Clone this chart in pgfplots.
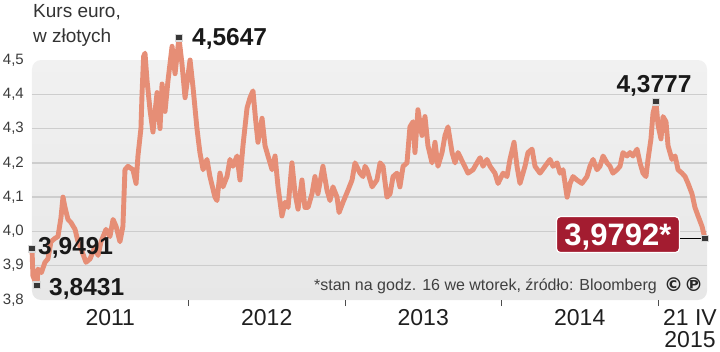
\documentclass[border=0pt]{standalone}
\usepackage{pgfplots}
\pgfplotsset{compat=1.18}
\usepackage{fontspec}
\setmainfont{Liberation Sans}
\newfontfamily\symfont{DejaVu Sans}
\definecolor{linec}{RGB}{230,142,118}
\definecolor{bgtop}{RGB}{241,241,241}
\definecolor{bgbot}{RGB}{231,231,231}
\definecolor{gridc}{RGB}{205,205,205}
\definecolor{tickc}{RGB}{60,60,60}
\definecolor{boxred}{RGB}{163,28,48}
\definecolor{markc}{RGB}{55,55,55}
\definecolor{markb}{RGB}{215,215,215}
\begin{document}
\begin{tikzpicture}
\path[use as bounding box] (-32pt,-51pt) rectangle (688pt,300pt);
\begin{axis}[
  scale only axis, width=675pt, height=240pt,
  xmin=2011, xmax=2015.313, ymin=3.8, ymax=4.5,
  clip=false,
  axis line style={draw=none},
  axis background/.style={top color=bgtop, bottom color=bgbot, rounded corners=9pt},
  ytick={3.9,4.0,4.1,4.2,4.3,4.4},
  extra y ticks={3.8,4.5},
  extra y tick style={grid=none},
  ymajorgrids,
  major grid style={gridc, line width=1.3pt},
  yticklabel style={font=\fontsize{15}{15}\selectfont, text=tickc, anchor=east, inner sep=0pt, xshift=-8pt},
  /pgf/number format/use comma,
  /pgf/number format/fixed,
  /pgf/number format/fixed zerofill,
  /pgf/number format/precision=1,
  /pgf/number format/assume math mode=true,
  ytick style={draw=none},
  ytick align=inside,
  xtick={2012,2013,2014,2015},
  xticklabels={},
  xtick align=outside,
  xtick pos=left,
  ytick pos=left,
  major tick length=6pt,
  xtick style={draw=black!70, line width=0.9pt},
]
\addplot[linec, line width=4.9pt, line join=round, line cap=round] table {
2011.000 3.949
2011.006 3.870
2011.032 3.843
2011.038 3.890
2011.060 3.880
2011.083 3.910
2011.102 3.920
2011.121 3.970
2011.147 3.980
2011.166 3.985
2011.185 4.040
2011.198 4.100
2011.211 4.070
2011.230 4.035
2011.249 4.026
2011.275 4.006
2011.294 3.970
2011.313 3.950
2011.345 3.910
2011.371 3.920
2011.403 3.956
2011.422 3.930
2011.441 3.970
2011.473 4.006
2011.498 3.985
2011.518 4.035
2011.537 4.015
2011.562 3.970
2011.581 4.015
2011.594 4.180
2011.613 4.190
2011.645 4.180
2011.665 4.140
2011.677 4.220
2011.696 4.300
2011.703 4.400
2011.713 4.510
2011.722 4.520
2011.735 4.440
2011.754 4.355
2011.773 4.290
2011.799 4.405
2011.818 4.300
2011.831 4.430
2011.850 4.350
2011.869 4.440
2011.895 4.540
2011.914 4.460
2011.939 4.5647
2011.958 4.490
2011.978 4.390
2012.010 4.500
2012.029 4.420
2012.054 4.300
2012.073 4.230
2012.093 4.180
2012.118 4.210
2012.137 4.160
2012.169 4.100
2012.182 4.090
2012.201 4.170
2012.220 4.130
2012.246 4.160
2012.265 4.210
2012.284 4.190
2012.310 4.220
2012.329 4.150
2012.348 4.250
2012.374 4.360
2012.393 4.390
2012.412 4.410
2012.430 4.320
2012.444 4.260
2012.470 4.330
2012.489 4.250
2012.508 4.220
2012.534 4.180
2012.553 4.220
2012.572 4.130
2012.597 4.045
2012.617 4.085
2012.636 4.070
2012.661 4.200
2012.681 4.110
2012.700 4.065
2012.725 4.150
2012.744 4.070
2012.764 4.070
2012.789 4.110
2012.808 4.160
2012.827 4.110
2012.859 4.190
2012.885 4.120
2012.904 4.090
2012.923 4.130
2012.949 4.100
2012.962 4.055
2012.987 4.085
2013.019 4.120
2013.045 4.150
2013.064 4.200
2013.096 4.170
2013.115 4.160
2013.128 4.190
2013.141 4.180
2013.173 4.130
2013.204 4.150
2013.224 4.200
2013.243 4.190
2013.268 4.100
2013.288 4.110
2013.307 4.160
2013.332 4.170
2013.351 4.130
2013.371 4.190
2013.396 4.200
2013.415 4.305
2013.435 4.320
2013.447 4.230
2013.466 4.355
2013.492 4.280
2013.511 4.335
2013.530 4.250
2013.556 4.200
2013.575 4.260
2013.594 4.190
2013.620 4.230
2013.639 4.280
2013.658 4.305
2013.684 4.230
2013.703 4.200
2013.722 4.230
2013.754 4.200
2013.786 4.170
2013.818 4.180
2013.843 4.200
2013.863 4.215
2013.882 4.190
2013.907 4.210
2013.927 4.190
2013.958 4.170
2013.978 4.140
2014.010 4.170
2014.035 4.160
2014.054 4.210
2014.080 4.260
2014.099 4.190
2014.118 4.140
2014.150 4.190
2014.169 4.230
2014.195 4.240
2014.214 4.190
2014.246 4.170
2014.278 4.190
2014.310 4.210
2014.329 4.190
2014.355 4.200
2014.374 4.170
2014.393 4.180
2014.419 4.100
2014.438 4.140
2014.457 4.160
2014.482 4.150
2014.514 4.140
2014.546 4.160
2014.565 4.190
2014.585 4.210
2014.610 4.180
2014.629 4.190
2014.649 4.220
2014.674 4.200
2014.693 4.190
2014.712 4.170
2014.738 4.180
2014.757 4.190
2014.776 4.230
2014.802 4.220
2014.821 4.230
2014.840 4.220
2014.866 4.240
2014.885 4.200
2014.904 4.170
2014.923 4.160
2014.936 4.210
2014.955 4.270
2014.968 4.345
2014.987 4.3777
2015.000 4.310
2015.019 4.270
2015.032 4.335
2015.051 4.320
2015.064 4.250
2015.089 4.210
2015.109 4.220
2015.128 4.180
2015.153 4.170
2015.173 4.160
2015.192 4.140
2015.217 4.110
2015.236 4.070
2015.256 4.045
2015.281 4.015
2015.300 3.9792
};
\draw[black, line width=0.8pt] (axis cs:2015.300,3.9792) -- ++(-25pt,0pt);
\addplot[only marks, mark=square*, mark size=3.2pt, mark options={fill=markc, draw=markb, line width=1.3pt}] table {
2011.000 3.9491
2011.032 3.8431
2011.939 4.5647
2014.987 4.3777
2015.300 3.9792
};
\node[anchor=base west, inner sep=0pt, font=\bfseries\fontsize{24.5}{24.5}\selectfont, text=black!90] at (axis cs:2011.939,4.5647) [xshift=13pt, yshift=-8pt] {4,5647};
\node[anchor=base west, inner sep=0pt, font=\bfseries\fontsize{24.5}{24.5}\selectfont, text=black!90] at (axis cs:2011.000,3.9491) [xshift=6pt, yshift=-6pt] {3,9491};
\node[anchor=base west, inner sep=0pt, font=\bfseries\fontsize{24.5}{24.5}\selectfont, text=black!90] at (axis cs:2011.032,3.8431) [xshift=12pt, yshift=-10pt] {3,8431};
\node[anchor=base, inner sep=0pt, font=\bfseries\fontsize{24.5}{24.5}\selectfont, text=black!90] at (axis cs:2014.987,4.3777) [xshift=-2pt, yshift=9pt] {4,3777};
\node[anchor=east, fill=boxred, draw=white, line width=1.2pt, rounded corners=4pt, text=white, font=\bfseries\fontsize{31}{31}\selectfont, inner xsep=8pt, inner ysep=7pt, text height=22pt, text depth=0pt] at (axis cs:2015.300,3.9792) [xshift=-25pt, yshift=4pt] {3,9792*};
\end{axis}
% texts outside the axis (tikz pt coordinates: axis box is (0,0)-(675,240))
\node[anchor=base west, inner sep=0pt, font=\fontsize{19}{19}\selectfont, text=black!80] at (1pt,282pt) {Kurs euro,};
\node[anchor=base west, inner sep=0pt, font=\fontsize{19}{19}\selectfont, text=black!80] at (1pt,257pt) {w złotych};
\node[anchor=base, inner sep=0pt, font=\fontsize{23}{23}\selectfont, text=black!88] at (78.25pt,-25pt) {2011};
\node[anchor=base, inner sep=0pt, font=\fontsize{23}{23}\selectfont, text=black!88] at (234.75pt,-25pt) {2012};
\node[anchor=base, inner sep=0pt, font=\fontsize{23}{23}\selectfont, text=black!88] at (391.25pt,-25pt) {2013};
\node[anchor=base, inner sep=0pt, font=\fontsize{23}{23}\selectfont, text=black!88] at (547.75pt,-25pt) {2014};
\node[anchor=base, inner sep=0pt, font=\fontsize{23}{23}\selectfont, text=black!88] at (658pt,-25pt) {21 IV};
\node[anchor=base, inner sep=0pt, font=\fontsize{23}{23}\selectfont, text=black!88] at (658pt,-47pt) {2015};
\node[anchor=base east, inner sep=0pt, font=\fontsize{16}{16}\selectfont, text=black!75] at (625pt,10pt) {*stan na godz. 16 we wtorek, źródło: Bloomberg};
\node[anchor=base west, inner sep=0pt, font=\symfont\bfseries\fontsize{19}{19}\selectfont, text=black!85] at (632pt,8.5pt) {©\kern1pt℗};
\end{tikzpicture}
\end{document}
